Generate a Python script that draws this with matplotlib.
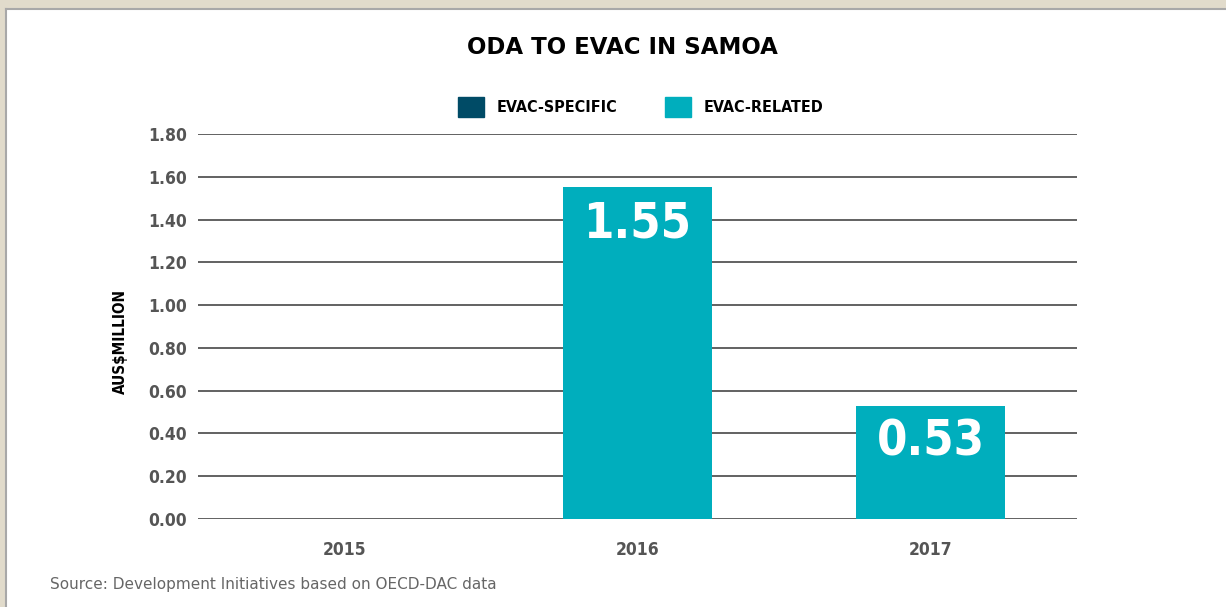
import matplotlib.pyplot as plt
from matplotlib.patches import Rectangle, Patch

years = ["2015", "2016", "2017"]
evac_specific = [0.0, 0.0, 0.0]
evac_related = [0.0, 1.55, 0.53]
value_labels = ["", "1.55", "0.53"]
yticks = [0.0, 0.2, 0.4, 0.6, 0.8, 1.0, 1.2, 1.4, 1.6, 1.8]

dark = "#004b66"
teal = "#00aebd"
grey = "#555555"
cond = {"family": "DejaVu Sans", "stretch": "condensed", "weight": "bold"}

fig = plt.figure(figsize=(12.26, 6.07), dpi=100)
fig.patch.set_facecolor("white")
W, H = 1226, 607

# beige frame at top and left, grey edge on the panel
fig.patches.append(Rectangle((0, 1 - 9 / H), 1, 9 / H, transform=fig.transFigure,
                             facecolor="#e1dbcb", edgecolor="none", zorder=0))
fig.patches.append(Rectangle((0, 0), 6 / W, 1, transform=fig.transFigure,
                             facecolor="#e1dbcb", edgecolor="none", zorder=0))
fig.add_artist(plt.Line2D([6 / W, 6 / W], [0, 1 - 9 / H], transform=fig.transFigure,
                          color="#a8a8a8", lw=1.5))
fig.add_artist(plt.Line2D([6 / W, 1], [1 - 9 / H, 1 - 9 / H], transform=fig.transFigure,
                          color="#a8a8a8", lw=1.5))

ax = fig.add_axes([198 / W, 1 - 519 / H, (1077 - 198) / W, (519 - 134) / H])
x = range(len(years))
ax.bar(x, evac_specific, width=0.51, color=dark, zorder=3)
ax.bar(x, evac_related, width=0.51, bottom=evac_specific, color=teal, zorder=3)

for i, (v, lab) in enumerate(zip(evac_related, value_labels)):
    if lab:
        ax.text(i, v - 0.17, lab, ha="center", va="center", color="white",
                fontsize=35, zorder=4, **cond)

ax.set_xlim(-0.5, 2.5)
ax.set_ylim(0, 1.8)
ax.set_yticks(yticks)
ax.set_yticklabels([f"{t:.2f}" for t in yticks])
ax.set_xticks(list(x))
ax.set_xticklabels(years)
ax.grid(axis="y", color=grey, lw=1.3, zorder=1)
ax.set_axisbelow(True)
for s in ax.spines.values():
    s.set_visible(False)
ax.tick_params(length=0, colors=grey, labelsize=12.5, pad=8)
ax.tick_params(axis="x", pad=16)
for t in ax.get_xticklabels() + ax.get_yticklabels():
    t.set_family(cond["family"])
    t.set_stretch(cond["stretch"])
    t.set_fontweight("bold")
ax.set_ylabel("AUS$MILLION", fontsize=11, color="black", **cond)
ax.yaxis.set_label_coords(-0.08, 0.462)

fig.text(622 / W, 1 - 48 / H, "ODA TO EVAC IN SAMOA", ha="center", va="center",
         fontsize=16.5, fontweight="heavy", color="black")

handles = [Patch(color=dark), Patch(color=teal)]
fig.legend(handles, ["EVAC-SPECIFIC", "EVAC-RELATED"], loc="center",
           bbox_to_anchor=(641 / W, 1 - 107 / H), ncol=2, frameon=False,
           handlelength=1.6, handleheight=1.6, handletextpad=0.8, columnspacing=3.0,
           prop={"family": "DejaVu Sans", "stretch": "condensed", "weight": "bold", "size": 11.5})

fig.text(50 / W, 1 - 585 / H, "Source: Development Initiatives based on OECD-DAC data",
         ha="left", va="center", fontsize=11, color="#666666")

fig.savefig("out.png", dpi=100)
